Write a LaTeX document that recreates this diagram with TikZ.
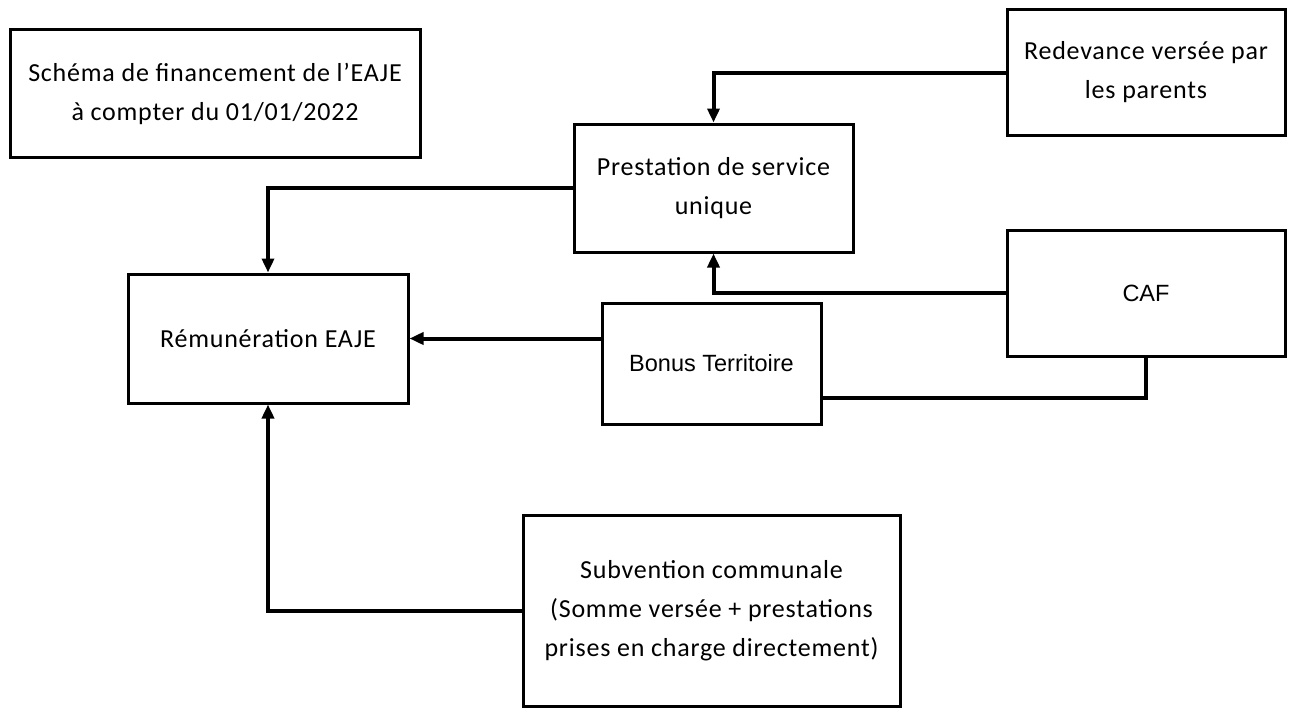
\documentclass[tikz,border=0pt]{standalone}
\usepackage{fontspec}
\setmainfont{Carlito}[LetterSpace=3]
\newfontfamily\arialf{Liberation Sans}
\usetikzlibrary{arrows.meta}
\begin{document}
\begin{tikzpicture}[x=1pt,y=-1pt,
  box/.style={draw,line width=3pt,rectangle,inner sep=0pt,align=center,font=\fontsize{26}{39}\selectfont},
  abox/.style={box,font=\arialf\fontsize{23.5}{30}\selectfont},
  conn/.style={line width=4pt},
  arr/.style={conn,-{Triangle[length=14pt,width=12pt]}}]
\useasboundingbox (0,0) rectangle (1295,709);
\node[box,minimum width=410pt,minimum height=127pt] (title) at (215,93.5) {Schéma de financement de l’EAJE\\à compter du 01/01/2022};
\node[box,minimum width=278pt,minimum height=125pt] (redev) at (1146,72.5) {Redevance versée par\\les parents};
\node[box,minimum width=279pt,minimum height=128pt] (prest) at (713.5,188) {Prestation de service\\unique};
\node[abox,minimum width=278pt,minimum height=126pt] (caf) at (1146,293) {CAF};
\node[box,minimum width=280pt,minimum height=129pt] (rem) at (268,338.5) {Rémunération EAJE};
\node[abox,minimum width=219pt,minimum height=121pt] (bonus) at (711.5,363.5) {Bonus Territoire};
\node[box,minimum width=377pt,minimum height=191pt] (subv) at (711.5,610.5) {Subvention communale\\(Somme versée + prestations\\prises en charge directement)};
\draw[arr] (redev.west) -| (prest.north);
\draw[arr] (prest.west) -| (rem.north);
\draw[arr] (caf.west) -| (prest.south);
\draw[arr] (rem.east -| bonus.west) -- (rem.east);
\draw[conn] (caf.south) |- ([yshift=-34pt]bonus.east);
\draw[arr] (subv.west) -| (rem.south);
\end{tikzpicture}
\end{document}
